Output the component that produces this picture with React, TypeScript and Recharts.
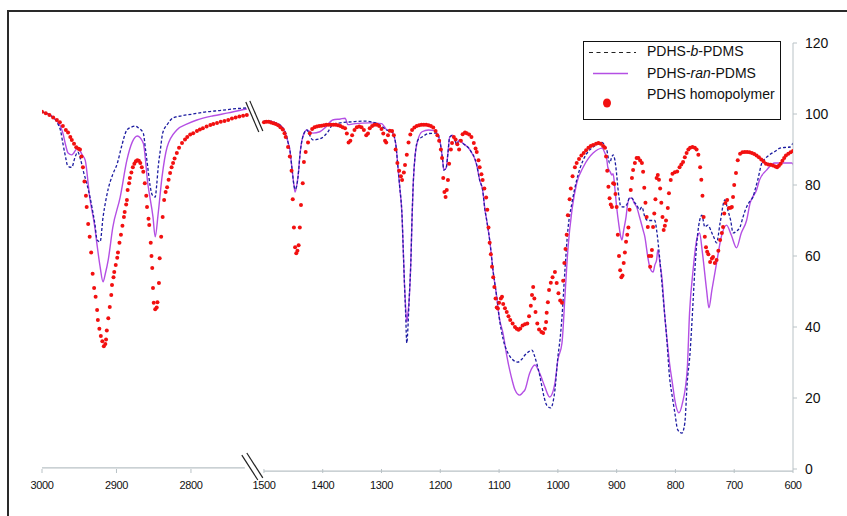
import React from 'react';
import { ComposedChart, Line, Scatter, XAxis, YAxis, ReferenceLine } from 'recharts';

// ---- axis geometry (broken wavenumber axis) ----
const LEFT_SCALE = 0.745; // px per cm-1, 3000..2725 segment
const RIGHT_SCALE = 0.588; // px per cm-1, 1500..600 segment
const RIGHT_START = 222;
const pos = (w: number) => (w >= 2000 ? (3000 - w) * LEFT_SCALE : RIGHT_START + (1500 - w) * RIGHT_SCALE);

const xTickLabels = [3000, 2900, 2800, 1500, 1400, 1300, 1200, 1100, 1000, 900, 800, 700, 600];
const yTicks = [0, 20, 40, 60, 80, 100, 120];

// ---- PDHS-b-PDMS (dashed blue) ----
const blockLeft: [number, number][] = [
  [3000, 100.6], [2990, 99.8], [2980, 97.7], [2975, 95.2], [2972, 91.8], [2968, 87.5], [2966, 85.6], [2962, 85], [2960, 85],
  [2956, 87.6], [2952, 89.3], [2948, 87], [2944, 83.5], [2940, 80.5], [2936, 77], [2933, 73.8], [2929, 69], [2926, 64.5],
  [2922, 64], [2918, 71], [2914, 76], [2911, 79], [2905, 83], [2899, 86], [2893, 91], [2886, 95.5], [2880, 96.3],
  [2875, 96.6], [2870, 96], [2864, 94.6], [2861, 90], [2858, 85], [2855, 80], [2852, 77.2], [2848, 76.6], [2846, 80],
  [2844, 85], [2841, 90], [2838, 94.6], [2832, 97], [2824, 98.9], [2815, 99.4], [2797, 100], [2780, 100.6], [2760, 101],
  [2740, 101.5], [2725, 101.7],
];
const blockRight: [number, number][] = [
  [1500, 98], [1490, 98], [1480, 97.5], [1470, 96.5], [1463, 94.5], [1459, 92], [1456, 90], [1452, 84.2], [1449, 80],
  [1447, 78.8], [1444, 80], [1441, 84], [1439, 88], [1434, 93.5], [1427, 95.5], [1422, 94], [1417, 92.7], [1405, 93],
  [1391, 95], [1383, 97], [1370, 97.5], [1350, 97.8], [1330, 98], [1310, 97.5], [1298, 96.3], [1291, 95.5], [1282, 95],
  [1276, 91.8], [1272, 85], [1269, 79.4], [1265, 71], [1263, 61.7], [1261, 52.4], [1259, 44], [1257, 35.5], [1255, 40],
  [1253, 47.6], [1250, 58.9], [1248, 71], [1246, 80.5], [1243, 88], [1238, 92.7], [1231, 93.5], [1220, 94.5], [1206, 94.6],
  [1202, 93.5], [1200, 91.8], [1196, 87], [1194, 84.2], [1190, 84.8], [1187, 89], [1184, 93.5], [1179, 94], [1175, 92.7],
  [1172, 91.3], [1168, 92.7], [1162, 91.8], [1150, 90], [1138, 85.6], [1133, 81.4], [1128, 78.6], [1124, 73], [1121, 70],
  [1116, 64.5], [1110, 55.5], [1104, 48.5], [1100, 43], [1093, 36.5], [1085, 32.7], [1078, 31], [1068, 30.1], [1061, 31],
  [1056, 32.1], [1050, 33], [1044, 33.5], [1040, 32], [1036, 29.8], [1031, 26.5], [1027, 23.1], [1023, 20], [1019, 18],
  [1012, 17.2], [1008, 19], [1005, 22.3], [1000, 31.5], [996, 37], [993, 42.8], [988, 56], [983, 67.3], [976, 75],
  [968, 81.4], [957, 87], [948, 89.5], [940, 90.7], [932, 91.5], [925, 92], [920, 91], [917, 90], [912, 86.2], [908, 88],
  [906, 88.5], [903, 87], [900, 83], [898, 79.4], [896, 76.6], [893, 74], [889, 73.8], [883, 74.4], [878, 76.3],
  [874, 76.3], [870, 75.2], [866, 74.4], [861, 73], [857, 73.8], [852, 71], [847, 70], [840, 70], [835, 70], [832, 67.3],
  [827, 59.7], [821, 48.5], [815, 37.2], [810, 25.9], [805, 20], [801, 15.8], [796, 11], [789, 10.1], [784, 13],
  [780, 24.2], [775, 33], [772, 41.1], [767, 56], [762, 66.5], [755, 71.5], [750, 68.2], [745, 68.7], [738, 66.5],
  [734, 65], [730, 63.7], [724, 69.3], [716, 75.8], [711, 73], [706, 70], [702, 66.5], [696, 67], [690, 68.2], [685, 71],
  [679, 73.8], [673, 75.5], [668, 76.6], [664, 79], [660, 81.4], [653, 86.2], [647, 87.5], [640, 88.5], [630, 89.5],
  [622, 90.4], [612, 90.6], [605, 90.7], [600, 91.8],
];

// ---- PDHS-ran-PDMS (purple) ----
const randomLeft: [number, number][] = [
  [3000, 100.6], [2990, 99.8], [2980, 98], [2975, 96.5], [2972, 94.6], [2968, 91], [2965, 89], [2960, 88.5], [2952, 90.4],
  [2946, 88.5], [2942, 87], [2936, 76.6], [2929, 68], [2926, 63], [2922, 57], [2918, 52.7], [2915, 55], [2911, 59],
  [2905, 68], [2895, 76.6], [2886, 87], [2879, 92], [2872, 93.8], [2864, 91.8], [2858, 80.5], [2851, 71], [2848, 65.4],
  [2844, 72], [2839, 82], [2832, 90.7], [2819, 95.5], [2805, 97.2], [2792, 98.3], [2770, 99.5], [2750, 100.3],
  [2735, 101], [2725, 101.4],
];
const randomRight: [number, number][] = [
  [1500, 98], [1490, 98], [1480, 97.5], [1470, 96.5], [1463, 94.5], [1459, 92], [1456, 90], [1452, 84.2], [1449, 80],
  [1447, 78], [1444, 80], [1441, 84], [1439, 88], [1434, 93.5], [1427, 95.5], [1417, 94.6], [1405, 95], [1395, 96.3],
  [1383, 98.3], [1370, 98.6], [1362, 98.8], [1357, 97], [1345, 97.3], [1320, 97.5], [1300, 97.3], [1291, 95.5],
  [1283, 95], [1276, 91.8], [1272, 85], [1269, 79.4], [1265, 71], [1263, 61.7], [1261, 52.4], [1259, 45.6], [1257, 41.4],
  [1255, 44], [1253, 47.6], [1250, 58.9], [1248, 71], [1246, 80.5], [1243, 88], [1238, 92.7], [1231, 95], [1220, 95.5],
  [1210, 95.3], [1204, 94], [1200, 91.8], [1196, 87], [1194, 84.2], [1190, 84.8], [1187, 89], [1184, 93.5], [1179, 94],
  [1175, 92.7], [1172, 91.3], [1168, 92.7], [1162, 91.8], [1150, 90], [1138, 85.6], [1133, 81.4], [1128, 78.6],
  [1124, 73], [1121, 70], [1116, 64.5], [1110, 55.5], [1104, 48.5], [1100, 43], [1093, 38], [1087, 32], [1082, 27.9],
  [1077, 24.5], [1073, 22.3], [1065, 20.8], [1060, 21.5], [1056, 22.3], [1048, 27], [1039, 29.3], [1031, 27],
  [1022, 23.1], [1014, 20.3], [1008, 22], [1005, 24.2], [1000, 30.7], [993, 35.5], [988, 48.5], [983, 61.7], [976, 73],
  [968, 80.5], [957, 85], [948, 87.5], [940, 89], [932, 90], [925, 90.4], [920, 89], [917, 87.5], [915, 85], [911, 83.7],
  [908, 82.8], [906, 83.2], [903, 79], [900, 73.8], [896, 68.5], [893, 65.4], [891, 64.5], [888, 67.3], [884, 71],
  [882, 73.8], [878, 76.3], [874, 76.3], [870, 74.9], [866, 73.8], [861, 71], [855, 67.3], [852, 65.4], [847, 59.7],
  [843, 56.5], [838, 55.5], [835, 57.5], [832, 58.9], [830, 61.7], [826, 57.5], [823, 54], [818, 42.8], [814, 36],
  [810, 29.8], [805, 24], [801, 19.4], [794, 15.8], [788, 18.6], [780, 27.9], [776, 43.9], [770, 56], [764, 64.5],
  [759, 66.5], [754, 60.8], [747, 50.4], [743, 45.4], [738, 50.4], [730, 58], [722, 65.4], [713, 68.7], [705, 65.9],
  [696, 62.3], [688, 66.5], [679, 70], [673, 74.9], [662, 78.6], [657, 81.4], [645, 84.2], [631, 86.2], [617, 86.2],
  [602, 86.2], [597, 84.8],
];

// ---- PDHS homopolymer (red dots) ----
const homoLeft: [number, number][] = [
  [3000, 100.6], [2995, 100.2], [2990, 99.7], [2985, 99], [2980, 98.3], [2976, 97.7], [2972, 96.6], [2968, 95.5],
  [2965, 94.8], [2962, 93.5], [2960, 92.7], [2957, 91.6], [2954, 90.6], [2951, 90.2], [2949, 90], [2947, 88], [2945, 85],
  [2943, 81], [2941, 77], [2940, 73.8], [2938, 69], [2936, 65.4], [2934, 61], [2932, 55], [2930, 51], [2928, 48.5],
  [2926, 44.8], [2925, 42], [2923, 39.5], [2921, 37.5], [2919, 36], [2917, 34.6], [2915, 35.2], [2914, 36.5], [2913, 39],
  [2911, 42.5], [2909, 45.6], [2907, 49], [2906, 51.8], [2904, 54], [2903, 55.5], [2901, 57.5], [2899, 59.5], [2898, 61],
  [2896, 63.7], [2894, 66], [2892, 68.5], [2890, 71], [2889, 72.4], [2887, 74.5], [2886, 75.8], [2885, 78.6], [2883, 80.5],
  [2882, 82], [2880, 83.5], [2878, 85], [2876, 86], [2874, 86.7], [2872, 87], [2870, 86.8], [2868, 86.2], [2866, 85],
  [2864, 83.7], [2862, 80.5], [2860, 77], [2859, 73.8], [2857, 70.5], [2856, 68.7], [2854, 63.7], [2853, 60], [2852, 56.6],
  [2851, 51], [2850, 46.8], [2848, 45], [2846, 45.5], [2845, 47], [2843, 52.4], [2842, 59.4], [2840, 65.4], [2838, 71],
  [2836, 75.8], [2834, 78], [2832, 79.4], [2830, 81.5], [2828, 83.4], [2826, 85], [2824, 86.2], [2822, 87.5], [2819, 89],
  [2816, 90.5], [2812, 91.8], [2808, 92.8], [2805, 93.5], [2801, 94.2], [2797, 94.6], [2792, 95.2], [2788, 95.6],
  [2784, 96], [2779, 96.5], [2774, 96.9], [2770, 97.2], [2765, 97.5], [2760, 97.8], [2755, 98], [2750, 98.3],
  [2745, 98.7], [2740, 99], [2735, 99.3], [2730, 99.5], [2725, 99.7],
];
const homoRight: [number, number][] = [
  [1500, 97.7], [1496, 97.8], [1492, 97.8], [1488, 97.6], [1484, 97.4], [1480, 97.2], [1476, 96.8], [1472, 96.3],
  [1468, 95.6], [1465, 94.6], [1463, 93.5], [1459, 90.7], [1456, 88], [1453, 84], [1451, 76], [1449, 68], [1447, 62.5],
  [1445, 60.8], [1443, 61.5], [1441, 63], [1439, 68], [1437, 74.4], [1434, 80.5], [1432, 86.5], [1429, 89.3], [1425, 92],
  [1422, 94.6], [1418, 95.8], [1414, 96.3], [1410, 96.5], [1406, 96.6], [1402, 96.7], [1398, 96.8], [1394, 97],
  [1390, 97], [1386, 97], [1382, 97], [1378, 97], [1374, 96.8], [1370, 96.6], [1366, 96.3], [1362, 96], [1359, 94.5],
  [1356, 92], [1353, 92.5], [1350, 94], [1346, 95.5], [1342, 96.3], [1338, 96.5], [1334, 96.3], [1330, 95.5], [1326, 94],
  [1323, 94.5], [1320, 96], [1316, 96.6], [1312, 97], [1308, 97], [1304, 96.6], [1300, 95.8], [1297, 94.5], [1294, 92.5],
  [1292, 92], [1289, 94], [1286, 95.3], [1282, 95.2], [1279, 94], [1276, 90], [1273, 86.2], [1270, 84], [1267, 82.5],
  [1265, 81.4], [1262, 83.5], [1260, 85.6], [1257, 88.5], [1254, 92], [1251, 94.2], [1248, 95.5], [1244, 96.2],
  [1240, 96.6], [1236, 96.8], [1232, 97], [1228, 97], [1224, 97], [1220, 96.8], [1216, 96.6], [1212, 96.2], [1208, 95.2],
  [1205, 94], [1202, 92.5], [1199, 90], [1197, 87.6], [1195, 82], [1193, 78], [1191, 76.6], [1189, 78.6], [1187, 81.4],
  [1185, 86], [1182, 90], [1180, 91.8], [1177, 93.5], [1174, 92.8], [1171, 91.5], [1168, 90], [1165, 92.5], [1162, 94.3],
  [1158, 94.8], [1155, 94.6], [1151, 94.2], [1147, 93.5], [1143, 91.8], [1140, 90.3], [1138, 89.3], [1135, 87],
  [1133, 85], [1130, 83], [1128, 81.4], [1125, 79], [1122, 76.5], [1120, 73], [1118, 68], [1116, 63.7], [1114, 60.5],
  [1112, 57], [1110, 54], [1108, 51.3], [1106, 48], [1104, 45.5], [1102, 45.2], [1100, 46.8], [1097, 48], [1095, 48.5],
  [1093, 46.5], [1090, 45.3], [1087, 44.2], [1084, 43], [1081, 42], [1077, 41], [1073, 40], [1070, 39.5], [1067, 39.2],
  [1064, 39.6], [1060, 40.4], [1056, 40.8], [1052, 41], [1049, 43], [1046, 46], [1044, 49], [1042, 51.3], [1040, 48],
  [1038, 44.2], [1035, 41], [1032, 39.3], [1028, 38.6], [1025, 38.3], [1022, 39.5], [1020, 41.4], [1019, 44], [1017, 47],
  [1015, 50.4], [1012, 52.5], [1009, 54], [1005, 55.5], [1002, 52.4], [999, 49.5], [996, 47.5], [993, 46.8], [991, 53],
  [989, 58], [987, 62], [985, 66], [983, 71.5], [980, 76], [978, 79], [975, 82.5], [971, 85], [968, 86.2], [964, 87.3],
  [960, 88.3], [956, 89], [952, 89.8], [948, 90.5], [944, 91], [940, 91.3], [935, 91.6], [931, 91.8], [927, 91.6],
  [923, 91], [920, 90.5], [918, 88], [916, 84], [914, 79.5], [912, 76.3], [910, 74.5], [908, 73.8], [906, 80.5],
  [904, 80.3], [902, 77.5], [900, 73.8], [898, 66], [896, 60], [894, 56], [892, 54], [890, 54.5], [888, 58], [886, 61],
  [884, 64], [882, 66], [880, 68], [878, 73], [876, 78.6], [874, 82], [872, 84.2], [869, 86.2], [866, 87.6], [863, 87.6],
  [860, 86.9], [857, 86.2], [855, 83.7], [853, 79.2], [851, 75], [849, 71], [847, 68.2], [845, 60], [843, 57], [841, 60],
  [840, 61.7], [838, 68.2], [836, 72], [834, 76], [832, 82], [830, 82.8], [828, 81.5], [826, 79], [824, 75], [822, 71],
  [820, 67.3], [818, 68.5], [816, 70], [813, 73.5], [811, 77.7], [808, 81.4], [805, 83.2], [801, 83.6], [797, 83.8],
  [793, 85], [790, 85.8], [787, 86.5], [784, 87.8], [781, 89], [778, 90], [775, 90.5], [771, 90.7], [767, 90.5],
  [764, 90], [761, 88.5], [758, 85], [756, 81.5], [754, 77], [752, 71], [750, 65.4], [748, 62.5], [746, 61.2],
  [744, 60.5], [741, 58.3], [738, 59.3], [736, 59.7], [733, 58], [730, 58.9], [727, 61.5], [724, 64.5], [721, 66.5],
  [719, 68.2], [717, 72], [715, 74.9], [712, 75.8], [709, 73.5], [706, 73.6], [704, 73.8], [702, 76.6], [700, 80],
  [697, 83.4], [694, 87], [690, 88.8], [686, 89.2], [682, 89.3], [678, 89.3], [674, 89.2], [670, 89], [666, 88.7],
  [662, 88.3], [658, 87.8], [654, 87.2], [650, 86.6], [646, 86], [642, 85.8], [638, 85.7], [634, 85.5], [630, 85.2],
  [627, 85], [624, 85.4], [621, 86], [618, 86.8], [615, 87.6], [612, 88.3], [608, 88.8], [604, 89.2], [600, 89.6],
];

type Pt = { x: number; y: number | null };
const toPts = (arr: [number, number][]): Pt[] => arr.map(([w, v]) => ({ x: pos(w), y: v }));
const brokenSeries = (left: [number, number][], right: [number, number][]): Pt[] => {
  const l = toPts(left);
  const r = toPts(right);
  const gap = (l[l.length - 1].x + r[0].x) / 2;
  return [...l, { x: gap, y: null }, ...r];
};

const blockData = brokenSeries(blockLeft, blockRight);
const randomData = brokenSeries(randomLeft, randomRight);
const homoData = [...toPts(homoLeft), ...toPts(homoRight)];

const xTicks = xTickLabels.map(pos);
const fmtX = (v: number) => {
  const i = xTicks.findIndex((t) => Math.abs(t - v) < 0.01);
  return i >= 0 ? String(xTickLabels[i]) : '';
};

const AXIS = '#b9c2c6';
const BLUE = '#1c1ca0';
const PURPLE = '#b44fe4';
const RED = '#f21010';
const BREAK_W = 2725; // last wavenumber on the left segment
const bx = pos(BREAK_W);

const Dot = (props: any) => <circle cx={props.cx} cy={props.cy} r={2} fill={RED} />;

export default function App() {
  return (
    <div style={{ position: 'absolute', left: 0, top: 0, width: 847, height: 516, background: '#fff' }}>
      <ComposedChart width={847} height={516} margin={{ top: 43, right: 0, bottom: 0, left: 42 }}>
        <XAxis
          type="number"
          dataKey="x"
          domain={[0, pos(600)]}
          allowDataOverflow
          ticks={xTicks}
          interval={0}
          tickFormatter={fmtX}
          axisLine={false}
          tickLine={{ stroke: AXIS }}
          tickSize={4}
          tickMargin={8}
          height={47}
          tick={{ fill: '#111', fontSize: 11, fontFamily: "'Liberation Sans Narrow', 'Liberation Sans', Arial", letterSpacing: -0.4 }}
        />
        <YAxis
          type="number"
          dataKey="y"
          orientation="right"
          domain={[0, 120]}
          ticks={yTicks}
          interval={0}
          width={54}
          axisLine={{ stroke: AXIS }}
          tickLine={{ stroke: AXIS }}
          tickSize={4}
          tickMargin={8}
          tick={{ fill: '#111', fontSize: 14, fontFamily: "'Liberation Sans', Arial" }}
        />
        <ReferenceLine segment={[{ x: 0, y: 0.3 }, { x: bx - 2, y: 0.3 }]} stroke={AXIS} strokeWidth={1.2} ifOverflow="visible" />
        <ReferenceLine segment={[{ x: pos(1500), y: -0.6 }, { x: pos(600), y: -0.6 }]} stroke={AXIS} strokeWidth={1.2} ifOverflow="visible" />
        <ReferenceLine segment={[{ x: bx - 5, y: 3.9 }, { x: bx + 11, y: -3.1 }]} stroke="#222" strokeWidth={1.2} ifOverflow="visible" />
        <ReferenceLine segment={[{ x: bx, y: 4.5 }, { x: bx + 16, y: -2.5 }]} stroke="#222" strokeWidth={1.2} ifOverflow="visible" />
        <ReferenceLine segment={[{ x: bx - 1, y: 103.4 }, { x: bx + 12, y: 94.9 }]} stroke="#222" strokeWidth={1.2} ifOverflow="visible" />
        <ReferenceLine segment={[{ x: bx + 3, y: 103.7 }, { x: bx + 16, y: 95.2 }]} stroke="#222" strokeWidth={1.2} ifOverflow="visible" />
        <Line
          data={randomData}
          dataKey="y"
          type="monotone"
          stroke={PURPLE}
          strokeWidth={1.4}
          dot={false}
          connectNulls={false}
          isAnimationActive={false}
        />
        <Line
          data={blockData}
          dataKey="y"
          type="monotone"
          stroke={BLUE}
          strokeWidth={1.3}
          strokeDasharray="3 2"
          dot={false}
          connectNulls={false}
          isAnimationActive={false}
        />
        <Scatter data={homoData} dataKey="y" fill={RED} shape={Dot} isAnimationActive={false} />
      </ComposedChart>
      <svg width={847} height={516} style={{ position: 'absolute', left: 0, top: 0, pointerEvents: 'none' }}>
        <line x1={8} y1={11} x2={847} y2={11} stroke="#2a2a2a" strokeWidth={2} />
        <line x1={8} y1={10} x2={8} y2={516} stroke="#2a2a2a" strokeWidth={2} />
        <rect x={583.5} y={41.5} width={197} height={78} fill="#fff" stroke="#111" strokeWidth={1} />
        <line x1={589} y1={52.5} x2={636} y2={52.5} stroke="#222" strokeWidth={1.2} strokeDasharray="4 3.5" />
        <line x1={593} y1={73.5} x2={628} y2={73.5} stroke={PURPLE} strokeWidth={1.6} />
        <ellipse cx={607} cy={103} rx={4} ry={4.6} fill={RED} />
        <g fontFamily="'Liberation Sans', Arial" fontSize={14} fill="#111">
          <text x={647} y={56}>PDHS-<tspan fontStyle="italic">b</tspan>-PDMS</text>
          <text x={647} y={78}>PDHS-<tspan fontStyle="italic">ran</tspan>-PDMS</text>
          <text x={647} y={99}>PDHS homopolymer</text>
        </g>
      </svg>
    </div>
  );
}
